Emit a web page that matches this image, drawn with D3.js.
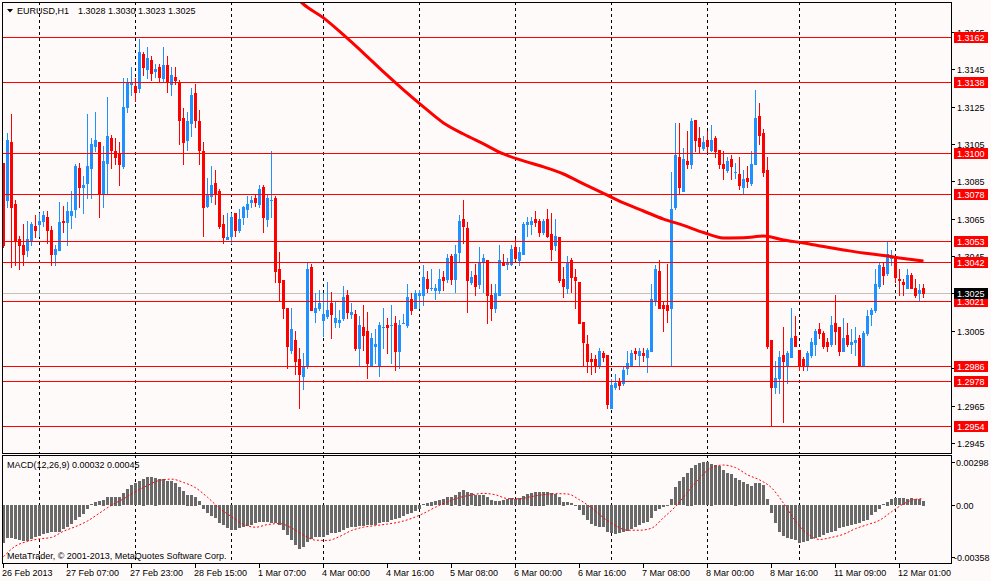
<!DOCTYPE html>
<html>
<head>
<meta charset="utf-8">
<script src="https://cdn.jsdelivr.net/npm/d3@7"></script>
<style>
  html, body { margin: 0; padding: 0; background: #fffafa; }
  svg { display: block; }
  text { font-family: "Liberation Sans", Arial, sans-serif; font-size: 9px; }
</style>
</head>
<body>
<div id="chart"></div>
<script>
/**
 * Data (EURUSD, H1 candles, bar 0 = 26 Feb 2013 15:00).
 */
const opens = [
  1.3095,1.3075,1.3106,1.3073,1.3054,1.3051,1.3048,1.3053,1.3061,1.3062,
  1.3064,1.3066,1.3059,1.3046,1.3048,1.3064,1.3063,1.3067,1.3070,1.3092,
  1.3082,1.3084,1.3092,1.3104,1.3106,1.3079,1.3095,1.3108,1.3101,1.3100,
  1.3093,1.3125,1.3137,1.3136,1.3135,1.3153,1.3145,1.3150,1.3144,1.3146,
  1.3140,1.3147,1.3137,1.3141,1.3138,1.3119,1.3107,1.3116,1.3132,1.3117,
  1.3101,1.3072,1.3077,1.3084,1.3080,1.3062,1.3054,1.3056,1.3068,1.3059,
  1.3066,1.3070,1.3074,1.3076,1.3073,1.3082,1.3065,1.3075,1.3076,1.3038,
  1.3032,1.3017,1.2995,1.3000,1.2990,1.2981,1.2986,1.3039,1.3015,1.3017,
  1.3011,1.3013,1.3020,1.3010,1.3010,1.3012,1.3024,1.3014,1.3014,1.2996,
  1.3007,1.3005,1.2986,1.2997,1.2986,1.3007,1.3008,1.3008,1.3009,1.2994,
  1.3009,1.3008,1.3022,1.3017,1.3024,1.3024,1.3033,1.3028,1.3027,1.3027,
  1.3034,1.3033,1.3045,1.3033,1.3047,1.3065,1.3060,1.3031,1.3035,1.3030,
  1.3042,1.3043,1.3024,1.3017,1.3024,1.3042,1.3041,1.3041,1.3050,1.3043,
  1.3046,1.3062,1.3062,1.3065,1.3064,1.3058,1.3065,1.3057,1.3051,1.3055,
  1.3033,1.3028,1.3043,1.3034,1.3031,1.3010,1.2998,1.2990,1.2990,1.2987,
  1.2993,1.2992,1.2964,1.2975,1.2978,1.2977,1.2985,1.2986,1.2994,1.2992,
  1.2993,1.2991,1.2994,1.3021,1.3037,1.3019,1.3019,1.3017,1.3071,1.3098,
  1.3080,1.3096,1.3094,1.3118,1.3108,1.3103,1.3107,1.3102,1.3108,1.3102,
  1.3094,1.3091,1.3097,1.3090,1.3089,1.3082,1.3087,1.3084,1.3094,1.3120,
  1.3111,1.3091,1.3000,1.2975,1.2980,1.2992,1.2987,1.2991,1.3002,1.2995,
  1.2990,1.2986,1.2992,1.2998,1.3006,1.3004,1.2999,1.2998,1.3009,1.3007,
  1.2994,1.3003,1.2998,1.2999,1.3001,1.2986,1.3004,1.3014,1.3016,1.3029,
  1.3039,1.3036,1.3044,1.3045,1.3033,1.3031,1.3028,1.3035,1.3028,1.3025,
  1.3028
];
const highs = [
  1.3095,1.3111,1.3121,1.3075,1.3056,1.3062,1.3064,1.3063,1.3067,1.3068,
  1.3069,1.3069,1.3061,1.3051,1.3074,1.3072,1.3074,1.3080,1.3094,1.3095,
  1.3088,1.3121,1.3108,1.3122,1.3106,1.3104,1.3130,1.3110,1.3108,1.3106,
  1.3140,1.3140,1.3146,1.3140,1.3161,1.3154,1.3157,1.3152,1.3148,1.3148,
  1.3157,1.3152,1.3146,1.3146,1.3139,1.3124,1.3122,1.3135,1.3137,1.3123,
  1.3106,1.3087,1.3093,1.3091,1.3081,1.3067,1.3068,1.3068,1.3068,1.3070,
  1.3072,1.3077,1.3077,1.3078,1.3083,1.3083,1.3078,1.3101,1.3077,1.3047,
  1.3032,1.3017,1.3017,1.3005,1.2996,1.2993,1.3042,1.3041,1.3025,1.3027,
  1.3025,1.3031,1.3026,1.3021,1.3016,1.3029,1.3027,1.3020,1.3016,1.3013,
  1.3019,1.3015,1.3004,1.3006,1.3010,1.3017,1.3012,1.3019,1.3013,1.3011,
  1.3014,1.3030,1.3025,1.3027,1.3027,1.3040,1.3037,1.3038,1.3030,1.3038,
  1.3037,1.3046,1.3046,1.3051,1.3067,1.3075,1.3063,1.3037,1.3041,1.3050,
  1.3046,1.3043,1.3030,1.3030,1.3051,1.3046,1.3044,1.3051,1.3054,1.3050,
  1.3063,1.3066,1.3066,1.3069,1.3065,1.3065,1.3070,1.3068,1.3065,1.3055,
  1.3039,1.3045,1.3044,1.3038,1.3031,1.3010,1.3003,1.2993,1.2992,1.2996,
  1.2994,1.2992,1.2979,1.2982,1.2980,1.2986,1.2994,1.2995,1.2996,1.2996,
  1.2996,1.2996,1.3030,1.3040,1.3043,1.3021,1.3041,1.3090,1.3116,1.3116,
  1.3103,1.3112,1.3119,1.3118,1.3114,1.3109,1.3112,1.3115,1.3109,1.3102,
  1.3101,1.3098,1.3099,1.3095,1.3098,1.3091,1.3093,1.3101,1.3134,1.3127,
  1.3113,1.3098,1.3000,1.2989,1.2994,1.3007,1.2994,1.3017,1.3013,1.2995,
  1.2991,1.2994,1.3001,1.3006,1.3009,1.3005,1.3001,1.3013,1.3024,1.3007,
  1.3012,1.3009,1.3006,1.3007,1.3003,1.3005,1.3016,1.3017,1.3038,1.3042,
  1.3042,1.3053,1.3048,1.3045,1.3038,1.3033,1.3038,1.3036,1.3033,1.3030,
  1.3030
];
const lows = [
  1.3050,1.3071,1.3039,1.3040,1.3038,1.3040,1.3045,1.3051,1.3055,1.3056,
  1.3061,1.3052,1.3040,1.3040,1.3048,1.3058,1.3051,1.3060,1.3066,1.3071,
  1.3068,1.3076,1.3076,1.3101,1.3066,1.3071,1.3079,1.3092,1.3094,1.3083,
  1.3092,1.3122,1.3131,1.3128,1.3133,1.3142,1.3140,1.3139,1.3141,1.3138,
  1.3138,1.3133,1.3131,1.3137,1.3105,1.3094,1.3102,1.3109,1.3114,1.3094,
  1.3056,1.3071,1.3074,1.3073,1.3060,1.3052,1.3054,1.3052,1.3056,1.3058,
  1.3062,1.3066,1.3071,1.3072,1.3071,1.3058,1.3061,1.3066,1.3031,1.3021,
  1.3012,1.2985,1.2993,1.2982,1.2964,1.2974,1.2985,1.3016,1.3010,1.3016,
  1.3002,1.3012,1.3001,1.3007,1.3007,1.3011,1.3012,1.3012,1.2995,1.2986,
  1.2995,1.2980,1.2986,1.2988,1.2981,1.2996,1.2993,1.2988,1.2984,1.2985,
  1.3009,1.3007,1.3014,1.3017,1.3017,1.3019,1.3026,1.3027,1.3022,1.3025,
  1.3027,1.3031,1.3030,1.3026,1.3042,1.3052,1.3015,1.3030,1.3024,1.3028,
  1.3026,1.3009,1.3011,1.3015,1.3024,1.3040,1.3038,1.3040,1.3043,1.3040,
  1.3046,1.3056,1.3057,1.3061,1.3056,1.3057,1.3055,1.3043,1.3048,1.3031,
  1.3023,1.3025,1.3026,1.3017,1.3009,1.2986,1.2983,1.2982,1.2983,1.2985,
  1.2989,1.2964,1.2964,1.2974,1.2974,1.2976,1.2982,1.2986,1.2990,1.2987,
  1.2989,1.2983,1.2994,1.3019,1.3017,1.3005,1.3010,1.2986,1.3070,1.3079,
  1.3080,1.3092,1.3092,1.3101,1.3100,1.3102,1.3101,1.3101,1.3098,1.3092,
  1.3086,1.3090,1.3086,1.3087,1.3081,1.3079,1.3082,1.3083,1.3094,1.3105,
  1.3088,1.2996,1.2954,1.2972,1.2972,1.2956,1.2977,1.2991,1.2997,1.2984,
  1.2984,1.2984,1.2991,1.2992,1.3001,1.2996,1.2994,1.2997,1.2998,1.2992,
  1.2994,1.2997,1.2993,1.2992,1.2987,1.2986,1.3003,1.3008,1.3015,1.3028,
  1.3030,1.3035,1.3040,1.3031,1.3024,1.3024,1.3028,1.3028,1.3023,1.3021,
  1.3023
];
const closes = [
  1.3051,1.3107,1.3071,1.3053,1.3051,1.3046,1.3054,1.3062,1.3059,1.3064,
  1.3067,1.3059,1.3046,1.3049,1.3063,1.3063,1.3069,1.3069,1.3093,1.3082,
  1.3083,1.3093,1.3105,1.3107,1.3079,1.3096,1.3109,1.3102,1.3098,1.3094,
  1.3125,1.3138,1.3138,1.3133,1.3154,1.3146,1.3151,1.3143,1.3145,1.3141,
  1.3147,1.3138,1.3142,1.3139,1.3118,1.3106,1.3117,1.3131,1.3118,1.3102,
  1.3071,1.3078,1.3083,1.3079,1.3061,1.3055,1.3055,1.3066,1.3059,1.3065,
  1.3071,1.3073,1.3075,1.3074,1.3081,1.3066,1.3076,1.3075,1.3037,1.3031,
  1.3017,1.2997,1.3006,1.2989,1.2982,1.2986,1.3038,1.3016,1.3017,1.3020,
  1.3014,1.3016,1.3014,1.3012,1.3011,1.3023,1.3015,1.3015,1.2996,1.3008,
  1.3003,1.2988,1.3001,1.2998,1.3008,1.3007,1.3007,1.3008,1.2994,1.3008,
  1.3009,1.3023,1.3016,1.3025,1.3025,1.3034,1.3028,1.3028,1.3028,1.3033,
  1.3032,1.3044,1.3033,1.3046,1.3064,1.3061,1.3032,1.3034,1.3029,1.3042,
  1.3044,1.3024,1.3017,1.3025,1.3043,1.3040,1.3042,1.3049,1.3044,1.3047,
  1.3062,1.3063,1.3064,1.3063,1.3058,1.3064,1.3056,1.3049,1.3056,1.3032,
  1.3029,1.3042,1.3034,1.3032,1.3009,1.2999,1.2989,1.2989,1.2986,1.2994,
  1.2991,1.2966,1.2976,1.2977,1.2976,1.2984,1.2988,1.2993,1.2993,1.2994,
  1.2992,1.2995,1.3022,1.3038,1.3017,1.3017,1.3016,1.3070,1.3099,1.3082,
  1.3097,1.3094,1.3117,1.3107,1.3104,1.3106,1.3104,1.3107,1.3101,1.3094,
  1.3092,1.3096,1.3093,1.3090,1.3083,1.3086,1.3085,1.3094,1.3119,1.3110,
  1.3090,1.2997,1.2975,1.2980,1.2991,1.2989,1.2993,1.3001,1.2997,1.2986,
  1.2986,1.2993,1.2999,1.3005,1.3004,1.2997,1.2997,1.3008,1.3005,1.2994,
  1.3001,1.2998,1.2999,1.3000,1.2987,1.3004,1.3013,1.3016,1.3030,1.3040,
  1.3035,1.3046,1.3045,1.3034,1.3032,1.3030,1.3035,1.3028,1.3024,1.3027,
  1.3025
];

// Moving average (thick red line), sampled at these bar indices.
const maIndex = [73,75,80,85,90,95,100,105,110,115,120,125,130,135,140,145,150,
  155,160,165,170,175,180,185,190,195,200,205,210,215,220,225,230];
const maValues = [1.31836,1.31797,1.31724,1.31633,1.31536,1.31435,1.31339,1.31248,
  1.31162,1.31103,1.31050,1.30996,1.30959,1.30927,1.30889,1.30836,1.30785,1.30734,
  1.30691,1.30648,1.30614,1.30576,1.30547,1.30548,1.30557,1.30536,1.30520,1.30501,
  1.30483,1.30466,1.30453,1.30437,1.30424];

// MACD(12,26,9) main values (histogram), one per bar.
const macdMain = [
  -0.00266,-0.00231,-0.00231,-0.00236,-0.00243,-0.00247,-0.00247,-0.00238,-0.00224,-0.00215,
  -0.00204,-0.00192,-0.00188,-0.00188,-0.00185,-0.00169,-0.00151,-0.00133,-0.00101,-0.00082,
  -0.00060,-0.00030,0.00005,0.00025,0.00027,0.00039,0.00055,0.00060,0.00060,0.00060,
  0.00082,0.00112,0.00142,0.00151,0.00169,0.00185,0.00197,0.00197,0.00192,0.00181,
  0.00179,0.00169,0.00165,0.00151,0.00128,0.00096,0.00073,0.00073,0.00060,0.00027,
  -0.00025,-0.00055,-0.00078,-0.00087,-0.00124,-0.00140,-0.00163,-0.00174,-0.00174,-0.00163,
  -0.00156,-0.00147,-0.00140,-0.00128,-0.00119,-0.00117,-0.00117,-0.00124,-0.00128,-0.00140,
  -0.00174,-0.00208,-0.00243,-0.00277,-0.00307,-0.00289,-0.00254,-0.00238,-0.00224,-0.00224,
  -0.00220,-0.00208,-0.00197,-0.00192,-0.00185,-0.00174,-0.00163,-0.00156,-0.00151,-0.00147,
  -0.00147,-0.00140,-0.00140,-0.00140,-0.00128,-0.00121,-0.00117,-0.00105,-0.00096,-0.00087,
  -0.00078,-0.00064,-0.00055,-0.00041,-0.00025,0.00009,0.00018,0.00025,0.00027,0.00037,
  0.00044,0.00055,0.00060,0.00071,0.00094,0.00105,0.00094,0.00082,0.00073,0.00073,
  0.00071,0.00055,0.00037,0.00027,0.00030,0.00037,0.00044,0.00048,0.00044,0.00050,
  0.00066,0.00078,0.00087,0.00094,0.00094,0.00094,0.00089,0.00082,0.00078,0.00055,
  0.00025,0.00021,0.00014,-0.00007,-0.00037,-0.00071,-0.00105,-0.00133,-0.00147,-0.00151,
  -0.00156,-0.00185,-0.00197,-0.00202,-0.00197,-0.00185,-0.00179,-0.00169,-0.00156,-0.00140,
  -0.00128,-0.00117,-0.00087,-0.00041,-0.00025,-0.00014,-0.00002,0.00044,0.00124,0.00165,
  0.00197,0.00227,0.00261,0.00279,0.00293,0.00298,0.00298,0.00289,0.00279,0.00273,
  0.00243,0.00224,0.00215,0.00192,0.00174,0.00158,0.00147,0.00135,0.00156,0.00156,
  0.00142,0.00044,-0.00055,-0.00128,-0.00185,-0.00215,-0.00231,-0.00236,-0.00243,-0.00261,
  -0.00256,-0.00247,-0.00238,-0.00231,-0.00224,-0.00208,-0.00197,-0.00188,-0.00179,-0.00163,
  -0.00156,-0.00147,-0.00142,-0.00133,-0.00128,-0.00110,-0.00101,-0.00071,-0.00048,-0.00025,
  0.00009,0.00025,0.00044,0.00050,0.00050,0.00050,0.00044,0.00050,0.00041,0.00041,
  0.00032
];

// MACD signal line (red dotted), sampled every few bars.
const signalIndex = [0,3,6,9,12,15,18,21,24,27,30,33,36,39,42,45,48,51,54,57,60,63,66,69,
  72,75,78,81,84,87,90,93,96,99,102,105,108,111,114,117,120,123,126,129,132,135,138,141,
  144,147,150,153,156,159,162,165,168,171,174,177,180,183,186,189,192,195,198,201,204,
  207,210,213,216,219,222,225,228,230];
const signalValues = [-0.00358,-0.00284,-0.00252,-0.00234,-0.00224,-0.00181,-0.00149,
  -0.00110,-0.00055,0.00000,0.00044,0.00094,0.00137,0.00172,0.00181,0.00158,0.00121,
  0.00055,-0.00021,-0.00080,-0.00133,-0.00153,-0.00135,-0.00128,-0.00158,-0.00208,
  -0.00243,-0.00245,-0.00218,-0.00176,-0.00153,-0.00142,-0.00131,-0.00117,-0.00092,
  -0.00057,-0.00014,0.00023,0.00053,0.00071,0.00082,0.00072,0.00046,0.00044,0.00060,
  0.00073,0.00080,0.00078,0.00037,-0.00018,-0.00087,-0.00142,-0.00174,-0.00174,-0.00160,
  -0.00087,-0.00009,0.00089,0.00188,0.00261,0.00279,0.00261,0.00211,0.00176,0.00121,
  0.00014,-0.00110,-0.00199,-0.00238,-0.00224,-0.00202,-0.00163,-0.00135,-0.00105,
  -0.00046,0.00009,0.00041,0.00045];

// Horizontal levels drawn on the chart.
const levels = [1.3162, 1.3138, 1.3100, 1.3078, 1.3053, 1.3042, 1.3021, 1.2986, 1.2978, 1.2954];

// Price scale labels.
const priceTicks = ["1.3165","1.3145","1.3125","1.3105","1.3085","1.3065","1.3045",
  "1.3025","1.3005","1.2985","1.2965","1.2945"];

// MACD scale labels.
const macdTicks = ["0.00298", "0.00", "-0.00358"];

// Time scale labels and the bars they sit on.
const timeLabels = ["26 Feb 2013","27 Feb 07:00","27 Feb 23:00","28 Feb 15:00",
  "1 Mar 07:00","4 Mar 00:00","4 Mar 16:00","5 Mar 08:00","6 Mar 00:00","6 Mar 16:00",
  "7 Mar 08:00","8 Mar 00:00","8 Mar 16:00","11 Mar 09:00","12 Mar 01:00"];
const timeLabelIndex = [0,16,32,48,64,80,96,112,128,144,160,176,192,208,224];

// Day separators (vertical dashed grid).
const dayIndex = [9, 33, 57, 80, 104, 128, 152, 176, 199, 223];

/**
 * Layout.
 */
const width = 991, height = 581;
const left = 2, right = 951;
const mainTop = 2, mainBottom = 453;
const macdTop = 455, macdBottom = 563;
const bg = "#fffafa", bull = "#1e90ff", bear = "#ff0000";

const svg = d3.select("#chart")
  .append("svg")
  .attr("width", width)
  .attr("height", height);

svg.append("rect")
  .attr("width", width)
  .attr("height", height)
  .attr("fill", bg);

const defs = svg.append("defs");
defs.append("clipPath").attr("id", "clip-main")
  .append("rect")
  .attr("x", left + 1).attr("y", mainTop + 1)
  .attr("width", right - left - 1).attr("height", mainBottom - mainTop - 1);
defs.append("clipPath").attr("id", "clip-macd")
  .append("rect")
  .attr("x", left + 1).attr("y", macdTop + 1)
  .attr("width", right - left - 1).attr("height", macdBottom - macdTop - 1);

/**
 * Scales.
 */
const n = closes.length;
// Bar index -> pixel column of the bar centre (4px per bar).
const x = d3.scaleLinear().domain([0, n - 1]).range([3, 3 + 4 * (n - 1)]);
const y = d3.scaleLinear().domain([1.31809, 1.29402]).range([mainTop, mainBottom - 1]);
const ym = d3.scaleLinear().domain([0.00298, -0.00358]).range([462.3, 556.7]);

const px = (v) => Math.round(v);

/**
 * Main pane.
 */
const main = svg.append("g").attr("clip-path", "url(#clip-main)");

// Day separators.
main.selectAll(".day")
  .data(dayIndex)
  .join("line")
  .attr("class", "day")
  .attr("x1", (d) => x(d) + 0.5)
  .attr("x2", (d) => x(d) + 0.5)
  .attr("y1", mainTop)
  .attr("y2", mainBottom)
  .attr("stroke", "#000")
  .attr("stroke-dasharray", "3,3");

// Bid line.
const bid = closes[n - 1];
main.append("line")
  .attr("x1", left).attr("x2", right)
  .attr("y1", px(y(bid)) + 0.5).attr("y2", px(y(bid)) + 0.5)
  .attr("stroke", "#c0c0c0");

// Candles.
const bars = d3.range(n);
const colorOf = (i) => (closes[i] >= opens[i] ? bull : bear);

main.selectAll(".wick")
  .data(bars)
  .join("rect")
  .attr("class", "wick")
  .attr("x", (i) => x(i))
  .attr("width", 1)
  .attr("y", (i) => px(y(highs[i])))
  .attr("height", (i) => px(y(lows[i])) - px(y(highs[i])) + 1)
  .attr("fill", colorOf)
  .attr("shape-rendering", "crispEdges");

main.selectAll(".body")
  .data(bars)
  .join("rect")
  .attr("class", "body")
  .attr("x", (i) => x(i) - 1)
  .attr("width", 3)
  .attr("y", (i) => px(y(Math.max(opens[i], closes[i]))))
  .attr("height", (i) =>
    Math.max(1, px(y(Math.min(opens[i], closes[i]))) - px(y(Math.max(opens[i], closes[i]))) + 1))
  .attr("fill", colorOf)
  .attr("shape-rendering", "crispEdges");

// Moving average.
const maLine = d3.line()
  .x((d) => x(d[0]) + 0.5)
  .y((d) => y(d[1]))
  .curve(d3.curveMonotoneX);

main.append("path")
  .datum(maIndex.map((d, i) => [d, maValues[i]]))
  .attr("d", maLine)
  .attr("fill", "none")
  .attr("stroke", bear)
  .attr("stroke-width", 3);

// Horizontal levels.
main.selectAll(".level")
  .data(levels)
  .join("line")
  .attr("class", "level")
  .attr("x1", left).attr("x2", right)
  .attr("y1", (d) => px(y(d)) + 0.5)
  .attr("y2", (d) => px(y(d)) + 0.5)
  .attr("stroke", bear);

/**
 * MACD pane.
 */
const macd = svg.append("g").attr("clip-path", "url(#clip-macd)");

macd.selectAll(".day")
  .data(dayIndex)
  .join("line")
  .attr("class", "day")
  .attr("x1", (d) => x(d) + 0.5)
  .attr("x2", (d) => x(d) + 0.5)
  .attr("y1", macdTop)
  .attr("y2", macdBottom)
  .attr("stroke", "#000")
  .attr("stroke-dasharray", "3,3");

macd.selectAll(".hist")
  .data(bars)
  .join("rect")
  .attr("class", "hist")
  .attr("x", (i) => x(i) - 1)
  .attr("width", 3)
  .attr("y", (i) => px(Math.min(ym(0), ym(macdMain[i]))))
  .attr("height", (i) => Math.max(1, px(Math.abs(ym(macdMain[i]) - ym(0)))))
  .attr("fill", "#696969")
  .attr("shape-rendering", "crispEdges");

const sigLine = d3.line()
  .x((d) => x(d[0]) + 0.5)
  .y((d) => ym(d[1]))
  .curve(d3.curveMonotoneX);

macd.append("path")
  .datum(signalIndex.map((d, i) => [d, signalValues[i]]))
  .attr("d", sigLine)
  .attr("fill", "none")
  .attr("stroke", bear)
  .attr("stroke-width", 1)
  .attr("stroke-dasharray", "2,2");

/**
 * Frames.
 */
const frame = svg.append("g")
  .attr("stroke", "#000")
  .attr("shape-rendering", "crispEdges");
frame.append("rect")
  .attr("x", left + 0.5).attr("y", mainTop + 0.5)
  .attr("width", right - left).attr("height", mainBottom - mainTop)
  .attr("fill", "none");
frame.append("rect")
  .attr("x", left + 0.5).attr("y", macdTop + 0.5)
  .attr("width", right - left).attr("height", macdBottom - macdTop)
  .attr("fill", "none");

/**
 * Price axis.
 */
const axis = svg.append("g");

axis.selectAll(".ptick")
  .data(priceTicks)
  .join("line")
  .attr("class", "ptick")
  .attr("x1", right + 1).attr("x2", right + 4)
  .attr("y1", (d) => px(y(+d)) + 0.5)
  .attr("y2", (d) => px(y(+d)) + 0.5)
  .attr("stroke", "#000");

axis.selectAll(".plabel")
  .data(priceTicks)
  .join("text")
  .attr("class", "plabel")
  .attr("x", right + 6)
  .attr("y", (d) => px(y(+d)) + 4)
  .attr("fill", "#000")
  .text((d) => d);

// Level price boxes.
axis.selectAll(".lbox")
  .data(levels)
  .join("rect")
  .attr("class", "lbox")
  .attr("x", right + 3)
  .attr("y", (d) => px(y(d)) - 5)
  .attr("width", 34)
  .attr("height", 11)
  .attr("fill", bear);

axis.selectAll(".ltext")
  .data(levels)
  .join("text")
  .attr("class", "ltext")
  .attr("x", right + 6)
  .attr("y", (d) => px(y(d)) + 4)
  .attr("fill", "#fff")
  .text((d) => d3.format(".4f")(d));

// Bid box.
axis.append("rect")
  .attr("x", right + 3)
  .attr("y", px(y(bid)) - 5)
  .attr("width", 34)
  .attr("height", 11)
  .attr("fill", "#000");
axis.append("text")
  .attr("x", right + 6)
  .attr("y", px(y(bid)) + 4)
  .attr("fill", "#fff")
  .text(d3.format(".4f")(bid));

// MACD scale.
axis.selectAll(".mtick")
  .data(macdTicks)
  .join("line")
  .attr("class", "mtick")
  .attr("x1", right + 1).attr("x2", right + 4)
  .attr("y1", (d) => px(ym(+d)) + 0.5)
  .attr("y2", (d) => px(ym(+d)) + 0.5)
  .attr("stroke", "#000");

axis.selectAll(".mlabel")
  .data(macdTicks)
  .join("text")
  .attr("class", "mlabel")
  .attr("x", (d) => (d.startsWith("-") ? right + 3 : right + 5))
  .attr("y", (d) => px(ym(+d)) + 4)
  .attr("fill", "#000")
  .text((d) => d);

/**
 * Time axis.
 */
axis.selectAll(".ttick")
  .data(timeLabelIndex)
  .join("line")
  .attr("class", "ttick")
  .attr("x1", (d) => x(d) + 0.5)
  .attr("x2", (d) => x(d) + 0.5)
  .attr("y1", macdBottom)
  .attr("y2", macdBottom + 5)
  .attr("stroke", "#000");

axis.selectAll(".tlabel")
  .data(timeLabelIndex)
  .join("text")
  .attr("class", "tlabel")
  .attr("x", (d) => x(d) - 1)
  .attr("y", 576)
  .attr("fill", "#000")
  .text((d, i) => timeLabels[i]);

/**
 * Titles.
 */
const f4 = d3.format(".4f"), f5 = d3.format(".5f");
svg.append("path")
  .attr("d", d3.line()([[7, 9], [13, 9], [10, 12.5]]) + "Z")
  .attr("fill", "#000");
svg.append("text")
  .attr("x", 17).attr("y", 14)
  .text("EURUSD,H1");
svg.append("text")
  .attr("x", 78).attr("y", 14)
  .text([opens[n - 1], highs[n - 1], lows[n - 1], closes[n - 1]].map(f4).join(" "));

svg.append("text")
  .attr("x", 7).attr("y", 468)
  .text(`MACD(12,26,9) ${f5(macdMain[n - 1])} ${f5(signalValues[signalValues.length - 1])}`);

svg.append("text")
  .attr("x", 7).attr("y", 559)
  .text("MetaTrader, \u00a9 2001-2013, MetaQuotes Software Corp.");
</script>
</body>
</html>
